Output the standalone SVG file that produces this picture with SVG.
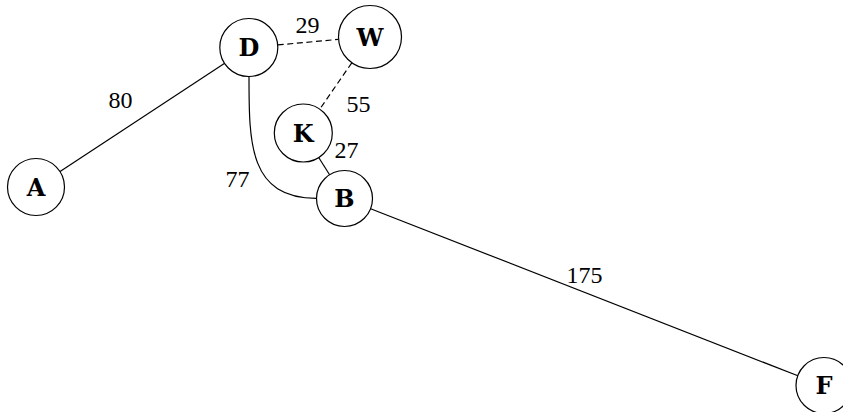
<svg xmlns="http://www.w3.org/2000/svg" width="843" height="412" viewBox="0 0 843 412">
  <style>
    .node circle { fill: #ffffff; stroke: #000000; stroke-width: 1.2; }
    .node text { font-family: "DejaVu Serif", "Liberation Serif", serif; font-weight: bold; font-size: 24px; text-anchor: middle; fill: #000000; }
    .edge { fill: none; stroke: #000000; stroke-width: 1.2; }
    .dashed { stroke-dasharray: 6 3.6; }
    .weight { font-family: "Liberation Serif", serif; font-size: 24px; text-anchor: middle; fill: #000000; }
  </style>
  <rect width="843" height="412" fill="#ffffff"/>

  <!-- connectors -->
  <g id="edges">
    <line class="edge" x1="224.3" y1="63.6" x2="59.3" y2="172"/>
    <line class="edge dashed" x1="277.7" y1="44.9" x2="338.1" y2="39.4"/>
    <line class="edge dashed" x1="351.8" y1="62.8" x2="319.8" y2="109.1"/>
    <line class="edge" x1="318.7" y1="157.5" x2="329.6" y2="174.8"/>
    <path class="edge" d="M249,76.5 C249,144 249,198 316.7,198.3"/>
    <line class="edge" x1="370.6" y1="208.7" x2="797.9" y2="375.8"/>
  </g>

  <!-- edge weights -->
  <g id="weights">
    <text class="weight" x="120.5" y="107.5">80</text>
    <text class="weight" x="307.5" y="33">29</text>
    <text class="weight" x="358.5" y="111.5">55</text>
    <text class="weight" x="346.5" y="157.5">27</text>
    <text class="weight" x="237.5" y="186.5">77</text>
    <text class="weight" x="584.5" y="282.5">175</text>
  </g>

  <!-- nodes -->
  <g id="node-D" class="node">
    <circle cx="248.8" cy="47.5" r="29"/>
    <text x="248.8" y="56.2">D</text>
  </g>
  <g id="node-W" class="node">
    <circle cx="370" cy="37" r="31.5"/>
    <text x="370" y="45.7">W</text>
  </g>
  <g id="node-K" class="node">
    <circle cx="303.3" cy="133" r="29"/>
    <text x="303.3" y="141.7">K</text>
  </g>
  <g id="node-B" class="node">
    <circle cx="344.5" cy="198.5" r="28"/>
    <text x="344.5" y="207.2">B</text>
  </g>
  <g id="node-A" class="node">
    <circle cx="36" cy="187" r="28.5"/>
    <text x="36" y="195.7">A</text>
  </g>
  <g id="node-F" class="node">
    <circle cx="824" cy="385.5" r="28"/>
    <text x="824" y="394.2">F</text>
  </g>
</svg>
